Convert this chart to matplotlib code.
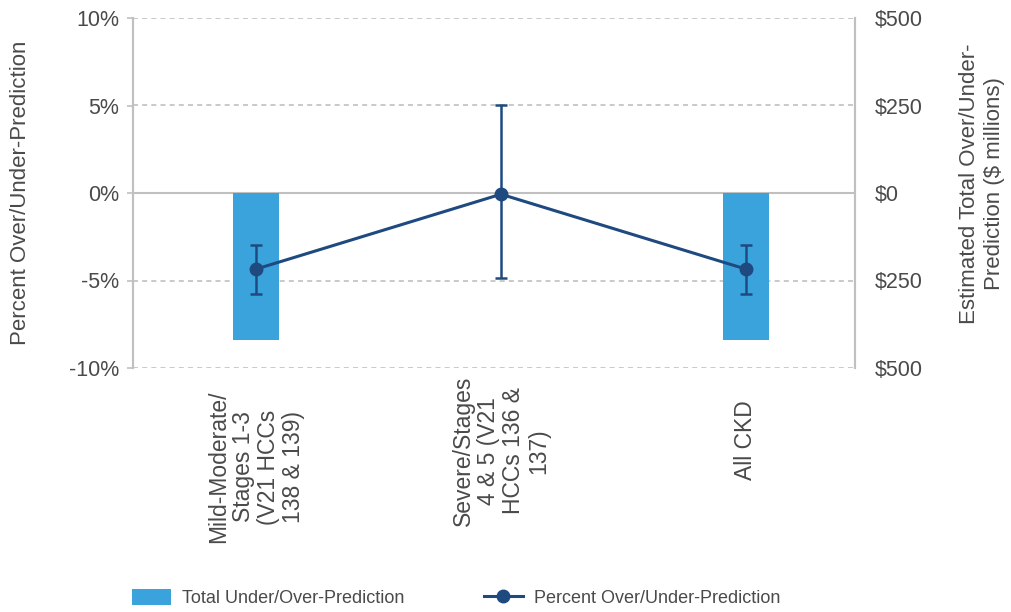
import matplotlib.pyplot as plt
import numpy as np

plt.rcParams['font.family'] = ['Liberation Sans', 'DejaVu Sans']

categories = ["Mild-Moderate/\nStages 1-3\n(V21 HCCs\n138 & 139)",
              "Severe/Stages\n4 & 5 (V21\nHCCs 136 &\n137)",
              "All CKD"]
# percent over/under-prediction with error bar ends
pct = [-4.35, -0.07, -4.35]
pct_low = [-5.75, -4.85, -5.75]
pct_high = [-2.95, 5.05, -2.95]
# total under/over-prediction, $ millions (no bar for the middle group)
total = [-420, np.nan, -420]

pct_ticks = [-10, -5, 0, 5, 10]
dollar_ticks = [-500, -250, 0, 250, 500]

txt = '#4a4a4a'
grey = '#c0c0c0'
bar_col = '#3ba3db'
line_col = '#1f4a80'

x = np.arange(len(categories))

W, H = 1011, 612
fig, ax = plt.subplots(figsize=(W / 100, H / 100), dpi=100)
fig.subplots_adjust(left=133 / W, right=855 / W, top=1 - 18 / H, bottom=1 - 368 / H)
ax2 = ax.twinx()
ax.set_zorder(ax2.get_zorder() + 1)
ax.patch.set_visible(False)

# bars + grid on the $ axis (underneath)
ax2.bar(x, total, width=0.188, color=bar_col, zorder=3,
        label='Total Under/Over-Prediction')
ax2.set_ylim(-500, 500)
ax2.set_yticks(dollar_ticks)
ax2.set_yticklabels(['$' + str(abs(v)) for v in dollar_ticks])
for v in dollar_ticks:
    if v == 0:
        ax2.axhline(v, color=grey, lw=1.5, zorder=2)
    else:
        ax2.axhline(v, color=grey, lw=1.2, ls=(0, (3, 2.5)), zorder=2)

# line with error bars on the % axis
yerr = [np.array(pct) - np.array(pct_low), np.array(pct_high) - np.array(pct)]
ax.errorbar(x, pct, yerr=yerr, fmt='none', ecolor=line_col,
            elinewidth=1.8, capsize=4.5, capthick=1.8)
ax.plot(x, pct, color=line_col, lw=2.2, marker='o', ms=9,
        label='Percent Over/Under-Prediction')
ax.set_ylim(-10, 10)
ax.set_yticks(pct_ticks)
ax.set_yticklabels([str(v) + '%' for v in pct_ticks])
ax.set_xlim(-0.502, 2.445)
ax.set_xticks(x)
ax.set_xticklabels([])

# category labels (rotated, each block centred on its own height)
label_y = [467, 451, 440]
for i, lab in enumerate(categories):
    ax.text(i, (368 - label_y[i]) / 350, lab, transform=ax.get_xaxis_transform(),
            rotation=90, ha='center', va='center', multialignment='center',
            fontsize=16.5, color=txt, linespacing=1.12)

for a in (ax, ax2):
    a.spines['top'].set_visible(False)
    a.spines['bottom'].set_visible(False)
    a.spines['left'].set_color(grey)
    a.spines['right'].set_color(grey)
    a.spines['left'].set_linewidth(1.5)
    a.spines['right'].set_linewidth(1.5)

ax.tick_params(axis='y', colors=grey, labelcolor=txt, labelsize=15.5,
               length=4, width=1.2, pad=6)
ax.tick_params(axis='x', length=0)
ax2.tick_params(axis='y', length=0, labelcolor=txt, labelsize=15.5, pad=14)

fig.text(21 / W, 1 - 193 / H, 'Percent Over/Under-Prediction', rotation=90,
         ha='center', va='center', fontsize=16, color=txt)
fig.text(982 / W, 1 - 184 / H, 'Estimated Total Over/Under-\nPrediction ($ millions)',
         rotation=90, ha='center', va='center', multialignment='center',
         fontsize=16, color=txt, linespacing=1.2)

h1, l1 = ax2.get_legend_handles_labels()
h2, l2 = ax.get_legend_handles_labels()
fig.legend(h1 + h2, l1 + l2, loc='center left', bbox_to_anchor=(125 / W, 1 - 598 / H),
           borderaxespad=0, ncol=2, frameon=False, fontsize=13, labelcolor=txt,
           handlelength=2.16, handleheight=0.95, handletextpad=0.6,
           columnspacing=4.4)

fig.savefig('out.png', dpi=100)
